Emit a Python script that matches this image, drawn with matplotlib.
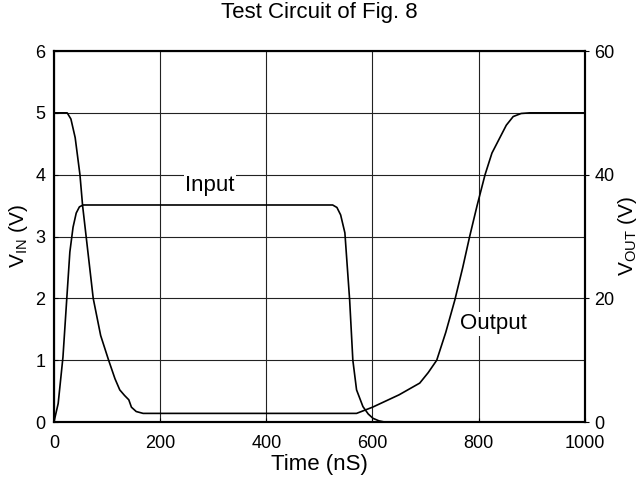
import numpy as np
import matplotlib.pyplot as plt

plt.rcParams['font.family'] = ['Liberation Sans', 'DejaVu Sans']

# Input (left axis, V)
t_in = [0, 8, 17, 24, 30, 36, 42, 48, 55, 525, 533, 540, 548, 557, 563, 570, 582, 592, 601, 612, 623, 1000]
v_in = [0, 0.3, 1.05, 1.97, 2.75, 3.15, 3.38, 3.48, 3.51, 3.51, 3.47, 3.35, 3.06, 1.97, 1.0, 0.52, 0.25, 0.13, 0.06, 0.02, 0.0, 0.0]

# Output (right axis, V)
t_out = [0, 25, 32, 40, 49, 54, 62, 74, 88, 103, 115, 124, 133, 141, 146, 155, 168,
         570, 600, 650, 689, 705, 721, 738, 755, 770, 783, 797, 812, 825, 840, 852, 865, 880, 896, 1000]
v_out = [50, 50, 49, 46, 40, 35, 29, 20, 14, 10, 7, 5.2, 4.3, 3.6, 2.4, 1.7, 1.4,
         1.4, 2.4, 4.4, 6.3, 8, 10, 14.5, 19.7, 25, 30, 35, 40, 43.5, 46, 48, 49.4, 49.9, 50, 50]

fig, ax = plt.subplots(figsize=(6.42, 4.84), dpi=100)
fig.subplots_adjust(left=0.084, right=0.911, top=0.8946, bottom=0.128)
ax2 = ax.twinx()

ax.plot(t_in, v_in, color='black', lw=1.2)
ax2.plot(t_out, v_out, color='black', lw=1.2)

ax.set_xlim(0, 1000)
ax.set_ylim(0, 6)
ax2.set_ylim(0, 60)
ax.set_xticks([0, 200, 400, 600, 800, 1000])
ax.set_yticks(range(7))
ax2.set_yticks([0, 20, 40, 60])
ax.grid(True, color='#222222', lw=0.8)

fs_tick = 13
fs = 16
ax.tick_params(axis='x', labelsize=fs_tick, direction='in', length=3, pad=9)
ax.tick_params(axis='y', labelsize=fs_tick, direction='in', length=3, pad=6)
ax2.tick_params(labelsize=fs_tick, direction='out', length=3, pad=4)
for a in (ax, ax2):
    for s in a.spines.values():
        s.set_linewidth(1.5)

ax.set_xlabel('Time (nS)', fontsize=fs, labelpad=2)
ax.set_ylabel('V$_{\\mathregular{IN}}$ (V)', fontsize=15, labelpad=4)
ax2.set_ylabel('V$_{\\mathregular{OUT}}$ (V)', fontsize=15, labelpad=1)
ax.set_title('Test Circuit of Fig. 8', fontsize=fs, pad=24)

ax.text(294, 3.82, 'Input', fontsize=fs, ha='center', va='center',
        bbox=dict(facecolor='white', edgecolor='none', pad=1))
ax.text(827, 1.59, 'Output', fontsize=fs, ha='center', va='center',
        bbox=dict(facecolor='white', edgecolor='none', pad=1))

fig.savefig('out.png', dpi=100)
